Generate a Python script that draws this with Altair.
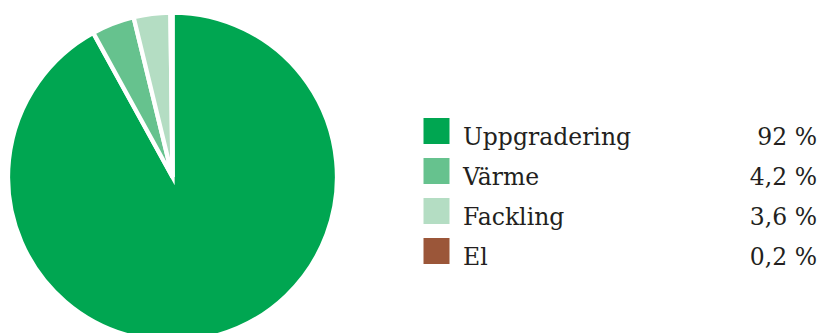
import altair as alt
import pandas as pd

categories = ["Uppgradering", "Värme", "Fackling", "El"]
shares = [92.0, 4.2, 3.6, 0.2]
colors = ["#00a651", "#66c28e", "#b4ddc3", "#9b5639"]


def fmt(v):
    s = f"{v:g}".replace(".", ",")
    return f"{s} %"


df = pd.DataFrame({
    "cat": categories,
    "share": shares,
    "order": list(range(len(categories))),
    "label": [fmt(v) for v in shares],
})

color_scale = alt.Scale(domain=categories, range=colors)

pie = alt.Chart(df).mark_arc(
    radius=164.5, stroke="white", strokeWidth=4.3,
    strokeJoin="miter", strokeMiterLimit=5,
).encode(
    theta=alt.Theta("share:Q", stack=True),
    order=alt.Order("order:Q"),
    color=alt.Color("cat:N", scale=color_scale, legend=None),
    x=alt.value(172.5),
    y=alt.value(177),
)

row_scale = alt.Scale(type="point", domain=categories, range=[131, 251], padding=0)

swatches = alt.Chart(df).mark_square(size=26 * 26, opacity=1).encode(
    x=alt.value(436.5),
    y=alt.Y("cat:N", scale=row_scale, axis=None),
    color=alt.Color("cat:N", scale=color_scale, legend=None),
)

names = alt.Chart(df).mark_text(
    align="left", baseline="alphabetic", dy=14,
    font="DejaVu Serif", fontSize=23.5, color="#231f20",
).encode(
    x=alt.value(463),
    y=alt.Y("cat:N", scale=row_scale, axis=None),
    text="cat:N",
)

vals = alt.Chart(df).mark_text(
    align="right", baseline="alphabetic", dy=14,
    font="DejaVu Serif", fontSize=23.5, color="#231f20",
).encode(
    x=alt.value(817),
    y=alt.Y("cat:N", scale=row_scale, axis=None),
    text="label:N",
)

chart = alt.layer(pie, swatches, names, vals).properties(
    width=821, height=333, padding=0,
    autosize=alt.AutoSizeParams(type="none"),
).configure(background="white").configure_view(strokeWidth=0, stroke=None)

chart.save("out.html", embed_options={"renderer": "svg", "actions": False})
